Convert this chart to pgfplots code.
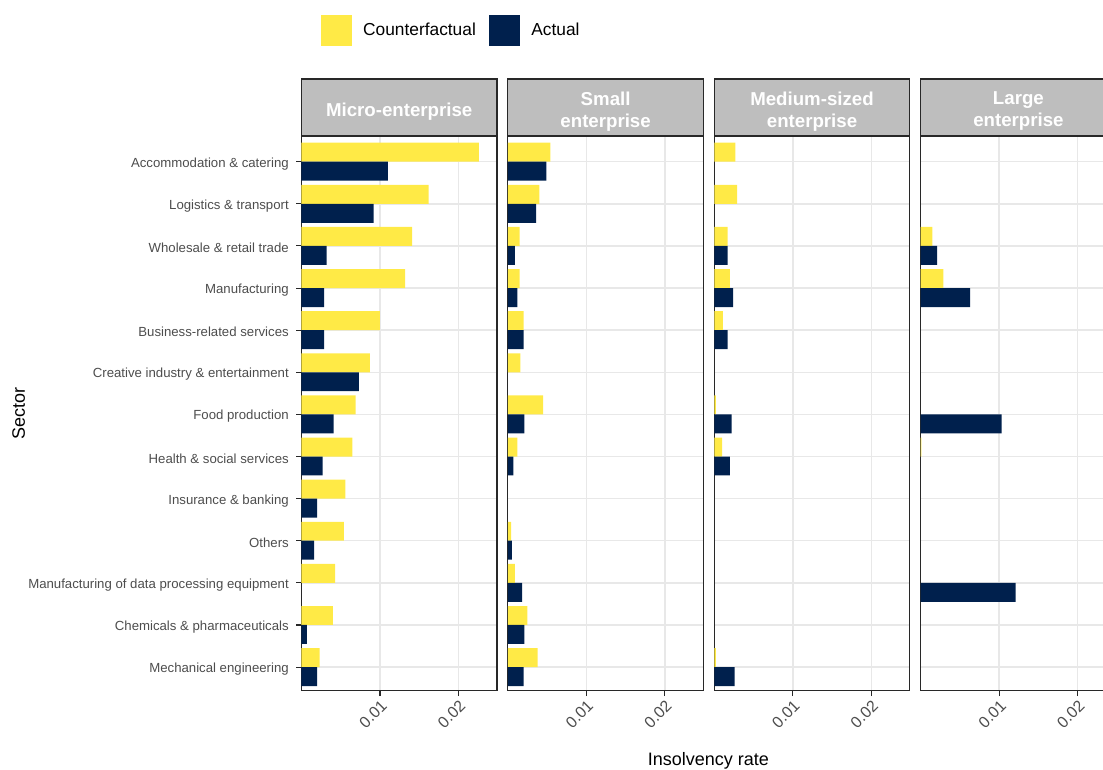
\documentclass[border=0pt]{standalone}
\usepackage{pgfplots}
\pgfplotsset{compat=1.18}
\usepackage{fontspec}
\setmainfont{Liberation Sans}
\definecolor{cfyellow}{HTML}{FFEA46}
\definecolor{actnavy}{HTML}{00204D}
\definecolor{gridgray}{RGB}{232,232,232}
\definecolor{stripgray}{RGB}{190,190,190}
\definecolor{ticktext}{RGB}{77,77,77}
\definecolor{bordergray}{RGB}{40,40,40}
\pgfplotsset{
  panel/.style={
    scale only axis, width=146.6pt, height=416pt, anchor=north west,
    xmin=0, xmax=0.0249, ymin=0.44, ymax=13.61,
    xbar, bar width=0.45,
    xtick={0.01,0.02}, xticklabels={0.01,0.02},
    scaled x ticks=false,
    ytick={1,2,...,13},
    xtick pos=bottom, ytick pos=left,
    xmajorgrids, ymajorgrids,
    major grid style={gridgray, line width=1.1pt},
    axis line style={bordergray, line width=0.9pt},
    tick align=outside, major tick length=4pt,
    tick style={bordergray, line width=0.8pt},
    xticklabel style={rotate=45, anchor=north east, font=\fontsize{12}{14}\selectfont, text=ticktext, inner sep=1.5pt},
    yticklabel style={font=\fontsize{9.9}{12}\selectfont, text=ticktext, xshift=-2pt, yshift=-1.5pt},
  },
  inner/.style={yticklabels={}, ytick style={draw=none}},
  cf/.style={fill=cfyellow, draw=none, bar shift=0.225, forget plot},
  act/.style={fill=actnavy, draw=none, bar shift=-0.225, forget plot},
}
\tikzset{
  strip/.style={fill=stripgray, draw=bordergray, line width=0.9pt},
  striptext/.style={text=white, font=\bfseries\fontsize{14}{16.5}\selectfont, align=center},
}
\begin{document}
\begin{tikzpicture}
\useasboundingbox (0pt,0pt) rectangle (827.25pt,-576.75pt);
\clip (0pt,0pt) rectangle (827.25pt,-576.75pt);

% ---------- Micro-enterprise ----------
\begin{axis}[panel, name=p1, at={(226.1pt,-102pt)},
  yticklabels={Mechanical engineering, Chemicals \& pharmaceuticals, Manufacturing of data processing equipment, Others, Insurance \& banking, Health \& social services, Food production, Creative industry \& entertainment, Business-related services, Manufacturing, Wholesale \& retail trade, Logistics \& transport, Accommodation \& catering},
  ylabel={Sector},
  ylabel style={at={(axis description cs:-1.447,0.5)}, anchor=center, font=\fontsize{13.5}{16}\selectfont},
  xlabel={Insolvency rate},
  xlabel style={at={(axis description cs:2.082,-0.126)}, anchor=center, font=\fontsize{13.5}{16}\selectfont},
  legend style={at={(axis description cs:0.10,1.19)}, anchor=west, draw=none, fill=none, inner sep=0pt,
    font=\fontsize{13}{15}\selectfont,
    /tikz/every odd column/.append style={column sep=6.5pt},
    /tikz/every even column/.append style={column sep=8.2pt}},
  legend columns=-1, legend cell align=left,
]
\addlegendimage{legend image code/.code={\fill[cfyellow] (0pt,-11.25pt) rectangle (22.5pt,11.25pt);}}
\addlegendentry{Counterfactual}
\addlegendimage{legend image code/.code={\fill[actnavy] (0pt,-11.25pt) rectangle (22.5pt,11.25pt);}}
\addlegendentry{Actual}
\addplot[cf] coordinates {(0.0226,13) (0.0162,12) (0.0141,11) (0.0132,10) (0.0100,9) (0.0087,8) (0.0069,7) (0.0065,6) (0.0056,5) (0.0054,4) (0.0043,3) (0.0040,2) (0.0023,1)};
\addplot[act] coordinates {(0.0110,13) (0.0092,12) (0.0032,11) (0.0029,10) (0.0029,9) (0.0073,8) (0.0041,7) (0.0027,6) (0.0020,5) (0.0016,4) (0.0007,2) (0.0020,1)};
\end{axis}
\draw[strip] (p1.north west) rectangle ([yshift=42.75pt]p1.north east);
\node[striptext] at ([yshift=18.6pt]p1.north) {Micro-enterprise};

% ---------- Small enterprise ----------
\begin{axis}[panel, inner, name=p2, at={(380.9pt,-102pt)}]
\addplot[cf] coordinates {(0.0054,13) (0.0040,12) (0.0015,11) (0.0015,10) (0.0020,9) (0.0016,8) (0.0045,7) (0.0012,6) (0.0004,4) (0.0009,3) (0.0025,2) (0.0038,1)};
\addplot[act] coordinates {(0.0049,13) (0.0036,12) (0.0009,11) (0.0012,10) (0.0020,9) (0.0021,7) (0.0007,6) (0.0005,4) (0.0018,3) (0.0021,2) (0.0020,1)};
\end{axis}
\draw[strip] (p2.north west) rectangle ([yshift=42.75pt]p2.north east);
\node[striptext] at ([yshift=18.6pt]p2.north) {Small\\enterprise};

% ---------- Medium-sized enterprise ----------
\begin{axis}[panel, inner, name=p3, at={(535.7pt,-102pt)}]
\addplot[cf] coordinates {(0.0027,13) (0.0029,12) (0.0017,11) (0.0020,10) (0.0011,9) (0.0002,7) (0.0010,6) (0.0002,1)};
\addplot[act] coordinates {(0.0017,11) (0.0024,10) (0.0017,9) (0.0022,7) (0.0020,6) (0.0026,1)};
\end{axis}
\draw[strip] (p3.north west) rectangle ([yshift=42.75pt]p3.north east);
\node[striptext] at ([yshift=18.6pt]p3.north) {Medium-sized\\enterprise};

% ---------- Large enterprise ----------
\begin{axis}[panel, inner, name=p4, at={(690.5pt,-102pt)}]
\addplot[cf] coordinates {(0.0015,11) (0.0029,10) (0.0001,6)};
\addplot[act] coordinates {(0.0021,11) (0.0063,10) (0.0103,7) (0.0121,3)};
\end{axis}
\draw[strip] (p4.north west) rectangle ([yshift=42.75pt]p4.north east);
\node[striptext] at ([yshift=18.6pt]p4.north) {Large\\enterprise};
\end{tikzpicture}
\end{document}
